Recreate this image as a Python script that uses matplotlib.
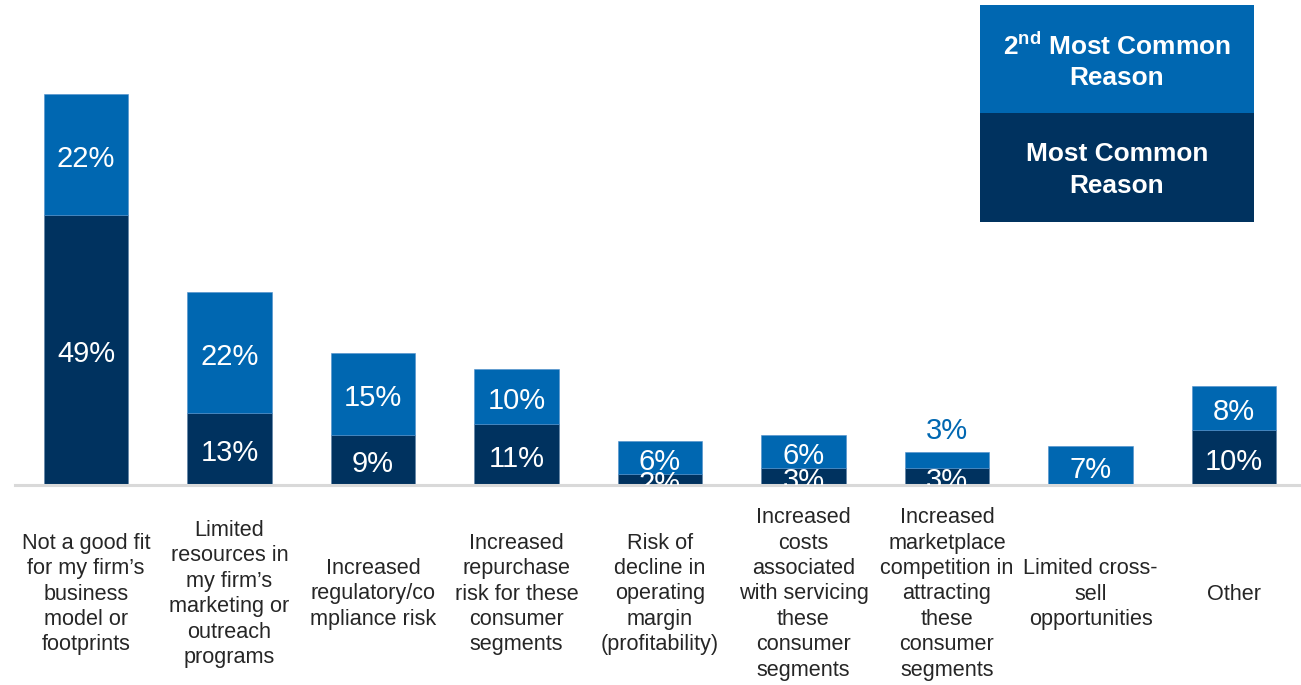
import matplotlib.pyplot as plt
from matplotlib.patches import Rectangle

plt.rcParams['font.family'] = ['Liberation Sans', 'DejaVu Sans']
plt.rcParams['mathtext.fontset'] = 'custom'
plt.rcParams['mathtext.rm'] = 'Liberation Sans'
plt.rcParams['mathtext.bf'] = 'Liberation Sans:bold'

categories = [
    'Not a good fit\nfor my firm\u2019s\nbusiness\nmodel or\nfootprints',
    'Limited\nresources in\nmy firm\u2019s\nmarketing or\noutreach\nprograms',
    'Increased\nregulatory/co\nmpliance risk',
    'Increased\nrepurchase\nrisk for these\nconsumer\nsegments',
    'Risk of\ndecline in\noperating\nmargin\n(profitability)',
    'Increased\ncosts\nassociated\nwith servicing\nthese\nconsumer\nsegments',
    'Increased\nmarketplace\ncompetition in\nattracting\nthese\nconsumer\nsegments',
    'Limited cross-\nsell\nopportunities',
    'Other',
]
most_common = [49, 13, 9, 11, 2, 3, 3, 0, 10]
second_common = [22, 22, 15, 10, 6, 6, 3, 7, 8]

dark = '#00325f'
light = '#0067b1'
label_color = '#262626'

W, H = 1301, 685
fig = plt.figure(figsize=(W / 100, H / 100), dpi=100)
# axes fills the width; baseline sits 200px above the bottom edge
ax = fig.add_axes([0, 200 / H, 1, 485 / H])
step = 143.5
x0 = 86 / step
ax.set_xlim(-x0, (W - 86) / step)
ax.set_ylim(0, 485 / 5.51)
ax.axis('off')

xs = list(range(len(categories)))
ax.bar(xs, most_common, width=0.59, color=dark, edgecolor='#5a7fa6', linewidth=0.4, zorder=2)
ax.bar(xs, second_common, width=0.59, bottom=most_common, color=light,
       edgecolor='#4f8fcb', linewidth=0.4, zorder=2)

# baseline
ax.axhline(0, xmin=15 / W, xmax=1, color='#d9d9d9', lw=2.2, zorder=3, clip_on=False)

for x, d, s in zip(xs, most_common, second_common):
    if d > 0:
        ax.annotate(f'{d}%', (x, d / 2), xytext=(0, -3), textcoords='offset points',
                    ha='center', va='center', fontsize=21, color='white',
                    zorder=4, annotation_clip=True, clip_on=True)
    if s < 4:
        ax.annotate(f'{s}%', (x, d + s), xytext=(0, 5), textcoords='offset points',
                    ha='center', va='bottom', fontsize=21, color=light, zorder=4)
    else:
        ax.annotate(f'{s}%', (x, d + s / 2), xytext=(0, -3), textcoords='offset points',
                    ha='center', va='center', fontsize=21, color='white', zorder=4)

# category labels below the bars
for x, c in zip(xs, categories):
    px = (x + x0) * step / W
    fig.text(px, 1 - 594 / H, c, ha='center', va='center', fontsize=15.6,
             color=label_color, linespacing=1.28, multialignment='center')

# legend boxes
lx, lw = 980 / W, 274 / W
fig.patches.append(Rectangle((lx, 1 - 113 / H), lw, 108 / H, transform=fig.transFigure,
                             facecolor=light, edgecolor='none'))
fig.patches.append(Rectangle((lx, 1 - 222 / H), lw, 109 / H, transform=fig.transFigure,
                             facecolor=dark, edgecolor='none'))
cx = 1117 / W
fig.text(cx, 1 - 46 / H, r'2$\mathbf{^{nd}}$ Most Common', ha='center', va='center',
         fontsize=18.9, fontweight='bold', color='white')
fig.text(cx, 1 - 78 / H, 'Reason', ha='center', va='center',
         fontsize=18.9, fontweight='bold', color='white')
fig.text(cx, 1 - 154 / H, 'Most Common', ha='center', va='center',
         fontsize=18.9, fontweight='bold', color='white')
fig.text(cx, 1 - 186 / H, 'Reason', ha='center', va='center',
         fontsize=18.9, fontweight='bold', color='white')

fig.savefig('out.png', dpi=100, facecolor='white')
